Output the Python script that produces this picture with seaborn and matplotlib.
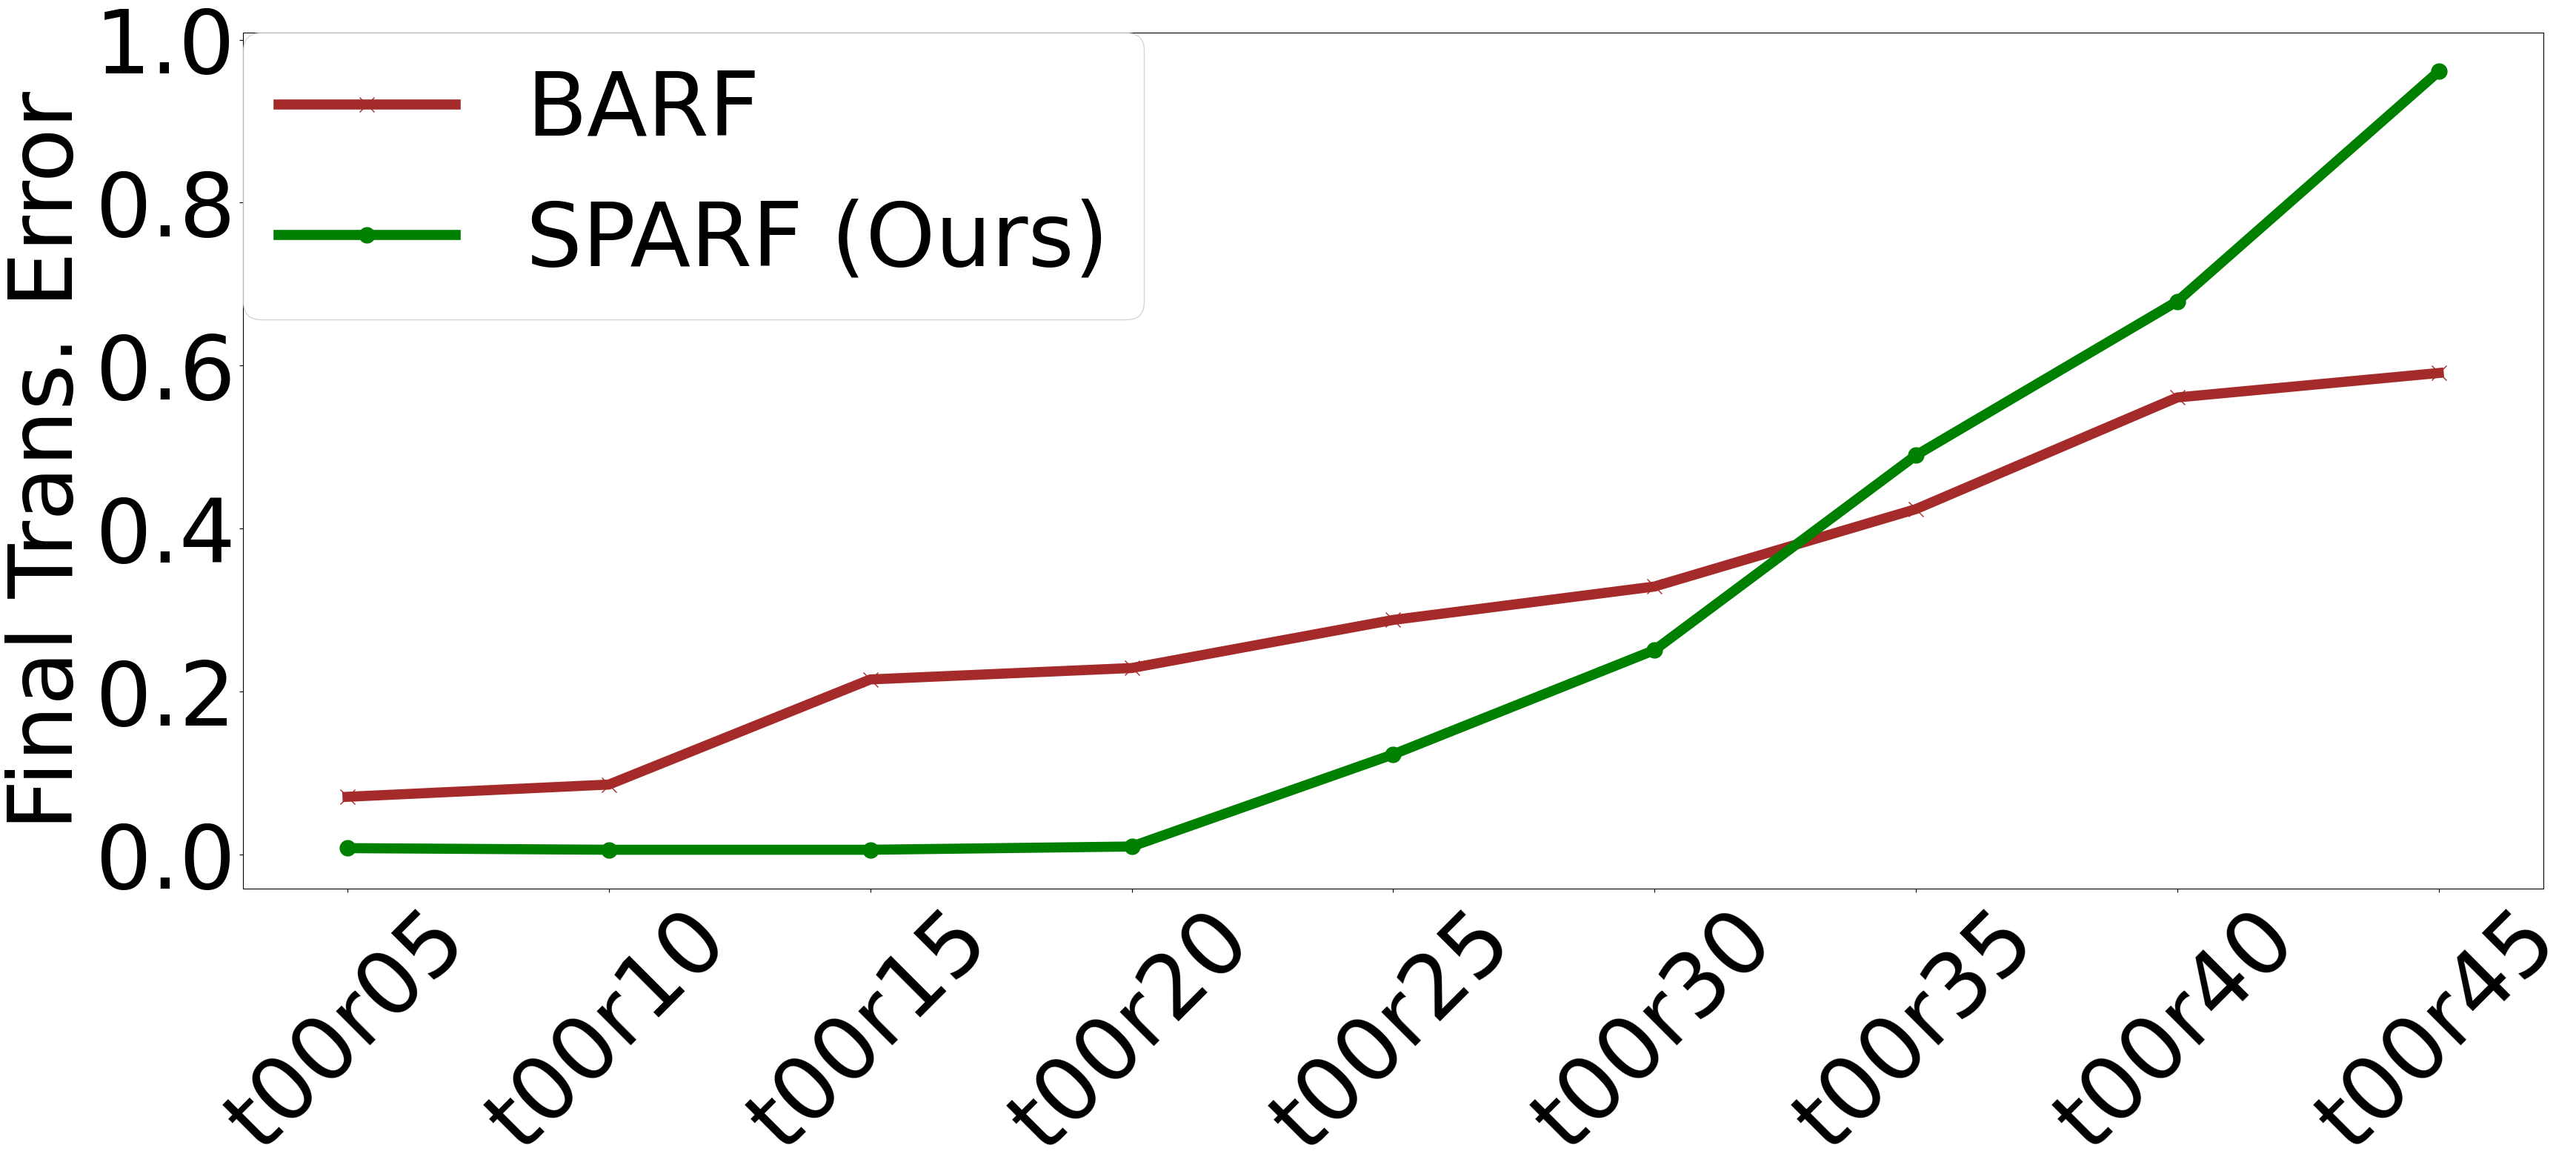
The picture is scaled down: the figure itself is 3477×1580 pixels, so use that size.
"""
Final translation error per perturbation level: BARF vs SPARF
"""
import pandas as pd
import matplotlib
matplotlib.use("Agg")
import matplotlib.pyplot as plt
import seaborn as sns

# 数据
levels = ["t00r05", "t00r10", "t00r15", "t00r20", "t00r25",
          "t00r30", "t00r35", "t00r40", "t00r45"]
barf_err = [0.071, 0.086, 0.215, 0.229, 0.288, 0.329, 0.424, 0.561, 0.591]
sparf_err = [0.008, 0.006, 0.006, 0.010, 0.123, 0.251, 0.490, 0.679, 0.961]

plt.rcParams["font.size"] = 86

df_barf = pd.DataFrame({"level": levels, "err": barf_err})
df_sparf = pd.DataFrame({"level": levels, "err": sparf_err})

fig = plt.figure(figsize=(34.77, 15.80), dpi=100)
ax = fig.add_axes([0.0943, 0.2411, 0.9873 - 0.0943, 0.9722 - 0.2411])

sns.lineplot(data=df_barf, x="level", y="err", ax=ax, color="brown",
             linewidth=9.8, marker="x", markersize=15,
             markeredgecolor="brown", markeredgewidth=1, label="BARF")
sns.lineplot(data=df_sparf, x="level", y="err", ax=ax, color="green",
             linewidth=9.8, marker="o", markersize=15,
             markeredgecolor="green", markeredgewidth=1, label="SPARF (Ours)")

ax.set_xlabel("")
ax.set_ylabel("Final Trans. Error")
ax.set_yticks([0.0, 0.2, 0.4, 0.6, 0.8, 1.0])
plt.setp(ax.get_xticklabels(), rotation=45)
ax.legend(loc="upper left", borderaxespad=0)

fig.savefig("out.png", dpi=100)
